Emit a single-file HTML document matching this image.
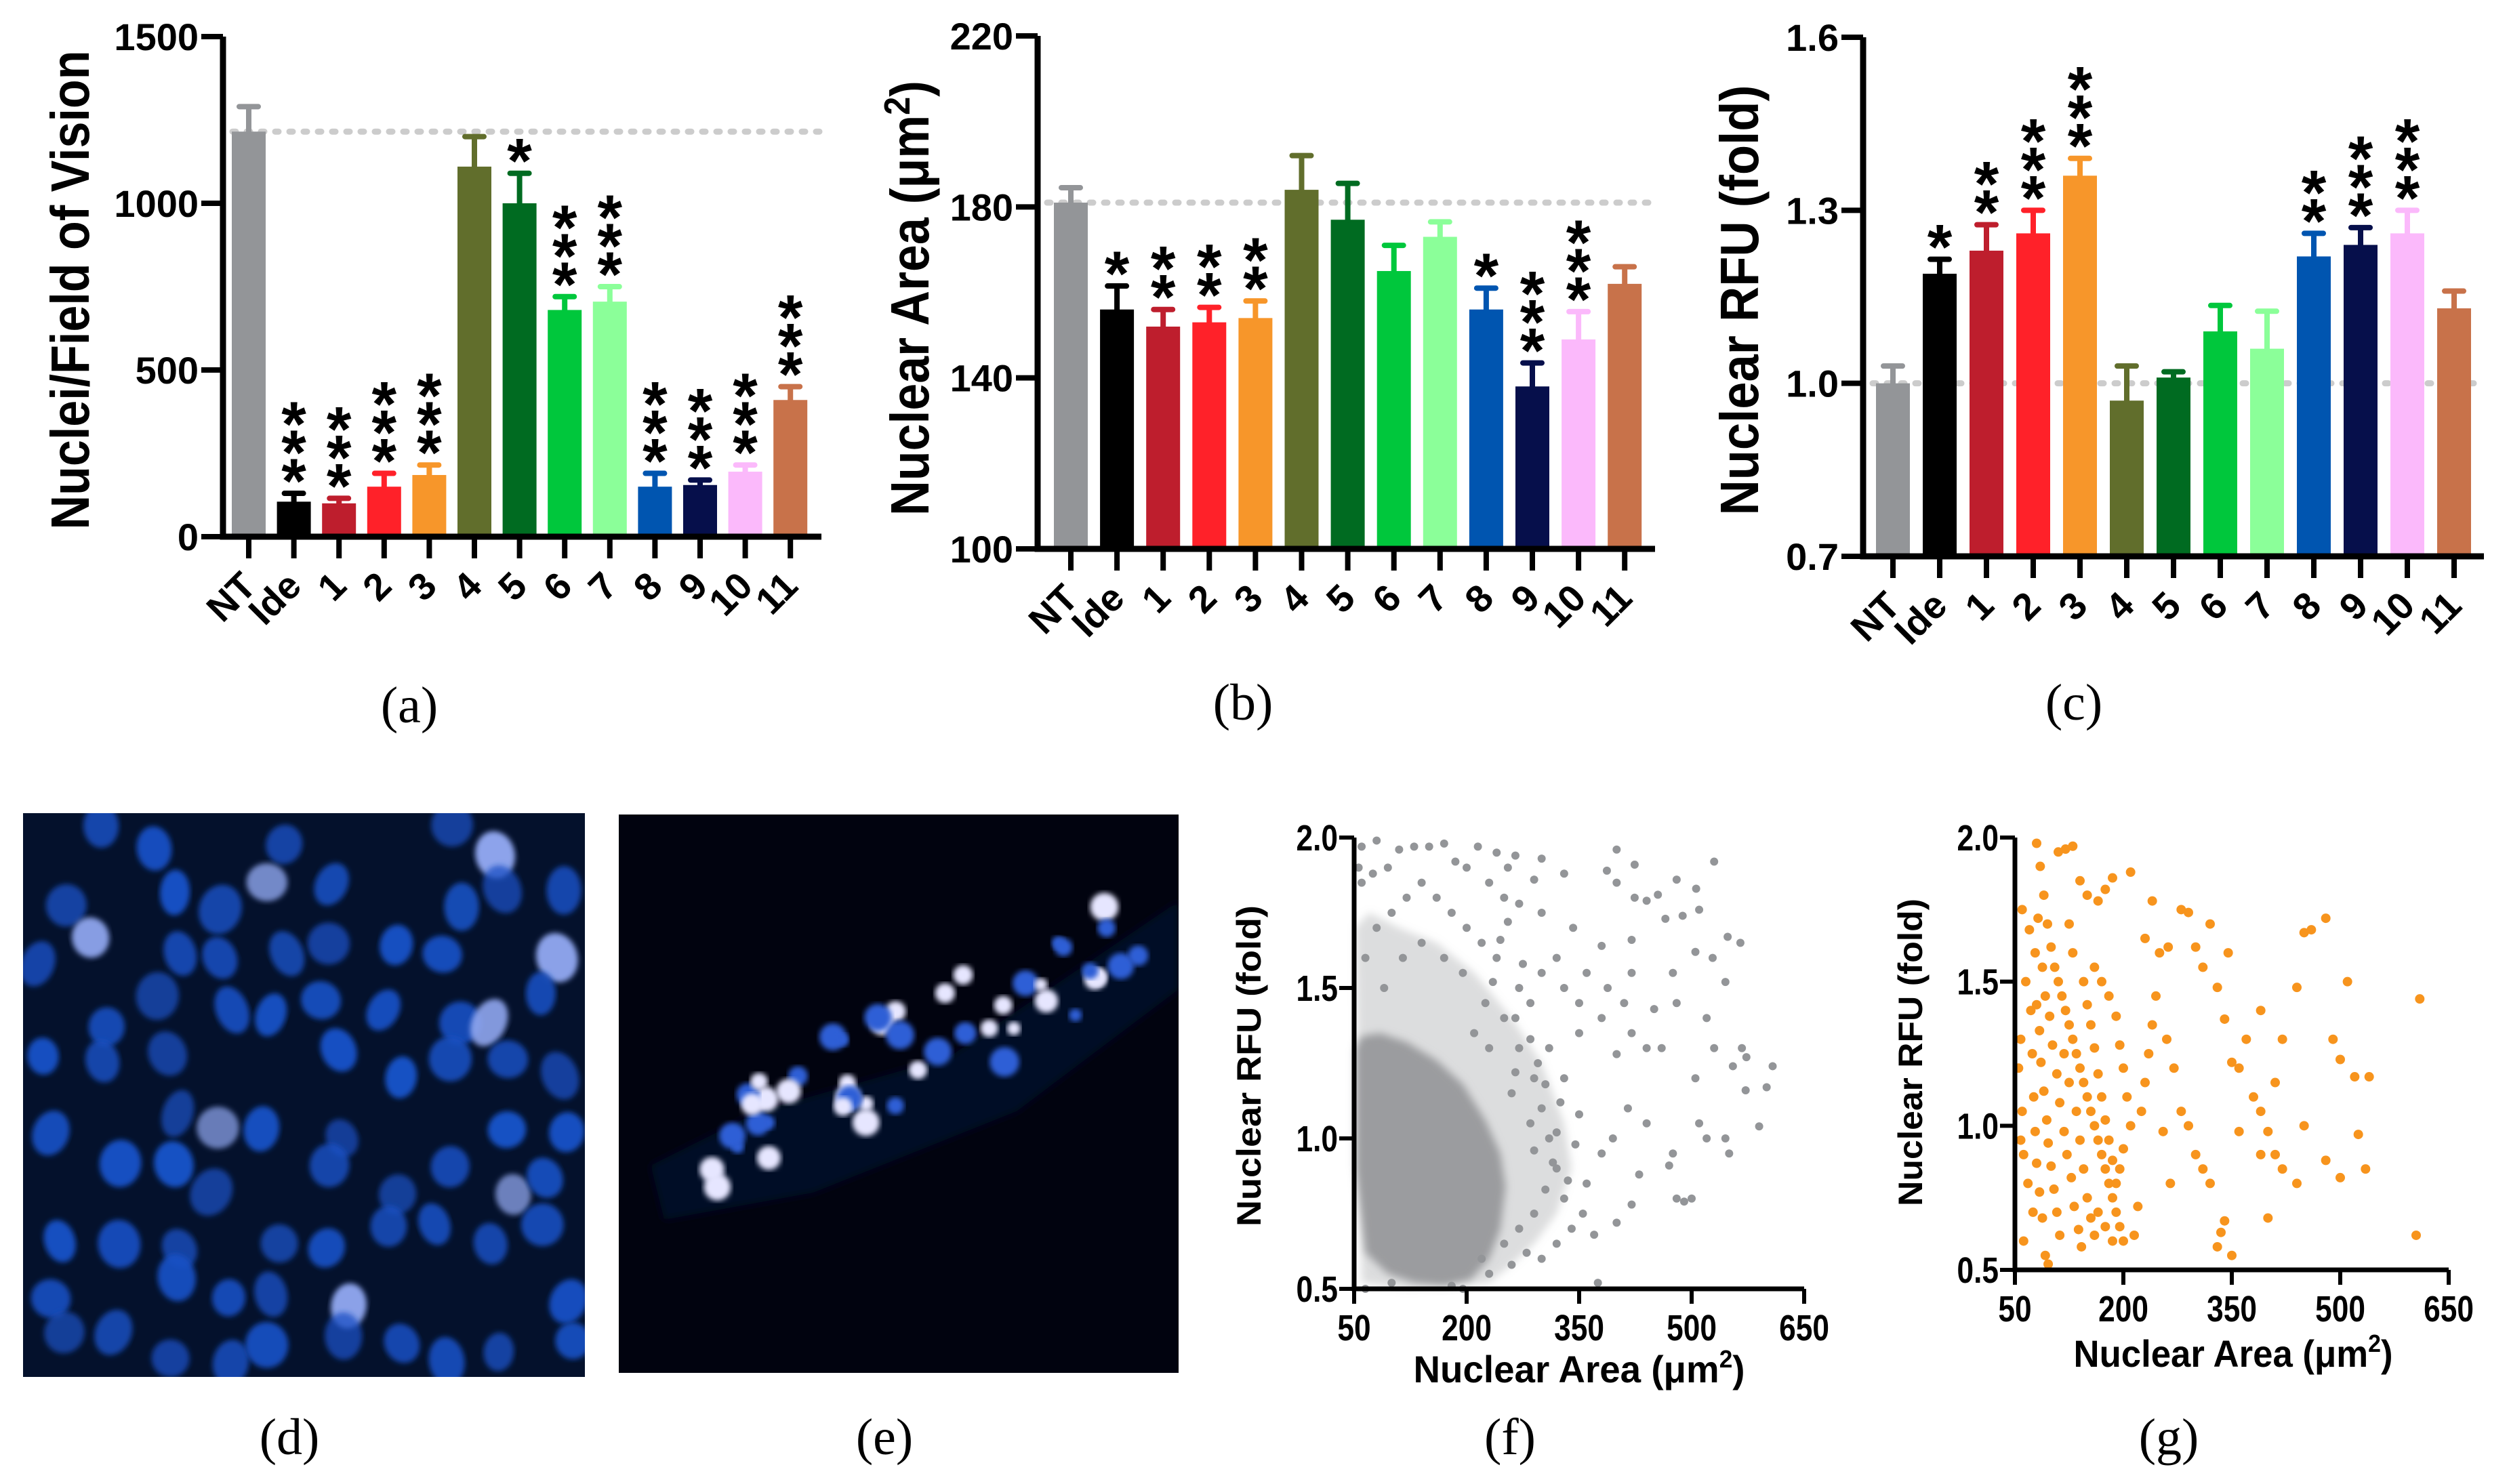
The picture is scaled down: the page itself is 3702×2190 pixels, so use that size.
<!DOCTYPE html>
<html><head><meta charset="utf-8">
<style>
html,body{margin:0;padding:0;background:#fff;}
svg{display:block;}
text{font-family:"Liberation Sans",Arial,sans-serif;}
.cap{font-family:"Liberation Serif",serif;font-size:76px;}
.narrow{font-family:"Liberation Sans Narrow","Liberation Sans",sans-serif;}
</style></head>
<body>
<svg id="fig" width="3702" height="2190" viewBox="0 0 3702 2190" xmlns="http://www.w3.org/2000/svg">
<defs>
<filter id="blur1"><feGaussianBlur stdDeviation="6"/></filter>
<filter id="blur2"><feGaussianBlur stdDeviation="4"/></filter>
<clipPath id="clipD"><rect x="34" y="1200" width="829" height="832"/></clipPath>
<clipPath id="clipE"><rect x="913" y="1202" width="826" height="824"/></clipPath>
</defs>
<g id="barA"></g>
<g id="barB"></g>
<g id="barC"></g>
<g id="imgD" clip-path="url(#clipD)"></g>
<g id="imgE" clip-path="url(#clipE)"></g>
<g id="scF"></g>
<g id="scG"></g>
<text class="cap" x="604" y="1066" text-anchor="middle">(a)</text>
<text class="cap" x="1834" y="1062" text-anchor="middle">(b)</text>
<text class="cap" x="3060" y="1062" text-anchor="middle">(c)</text>
<text class="cap" x="427" y="2146" text-anchor="middle">(d)</text>
<text class="cap" x="1305" y="2146" text-anchor="middle">(e)</text>
<text class="cap" x="2228" y="2146" text-anchor="middle">(f)</text>
<text class="cap" x="3200" y="2146" text-anchor="middle">(g)</text>
</svg>
<script>
const categories = ["NT","Ide","1","2","3","4","5","6","7","8","9","10","11"];
const barColors = ["#939598","#000000","#be1e2d","#ff2129","#f7962a","#616e2c","#006b21","#00c73c","#8bff99","#0055b0","#060f4b","#fbb9fb","#c8724a"];

const countValues = [1215,105,100,150,185,1110,1000,680,705,150,155,195,410];
const countErrors = [1290,130,115,190,215,1200,1090,720,750,190,170,215,450];
const countStars  = [0,3,3,3,3,0,1,3,3,3,3,3,3];
const countTicks  = [0,500,1000,1500];

const areaValues = [181,156,152,153,154,184,177,165,173,156,138,149,162];
const areaErrors = [184.5,161.5,156,156.5,158,192,185.5,171,176.5,161,143.5,155.5,166];
const areaStars  = [0,1,2,2,2,0,0,0,0,1,3,3,0];
const areaTicks  = [100,140,180,220];

const rfuValues = [1.00,1.19,1.23,1.26,1.36,0.97,1.01,1.09,1.06,1.22,1.24,1.26,1.13];
const rfuErrors = [1.03,1.215,1.275,1.30,1.39,1.03,1.02,1.135,1.125,1.26,1.27,1.30,1.16];
const rfuStars  = [0,1,2,3,3,0,0,0,0,2,3,3,0];
const rfuTicks  = [0.7,1.0,1.3,1.6];

const fArea = [60,80,110,130,150,170,215,240,265,300,400,424,480,530,506,255,290,330,387,400,440,455,424,465,510,488,548,565,420,380,342,300,270,250,320,360,388,450,420,475,505,528,545,520,480,410,380,350,440,460,400,420,530,567,573,555,608,572,600,590,505,510,520,545,550,475,480,500,490,470,430,440,415,395,380,360,330,355,340,320,300,280,260,230,375,370,420,400,330,300,310,285,270,330,350,300,240,220,200,180,160,140,120,100,80,60,65,90,115,140,170,195,225,250,210,270,290,310,320,290,270,250,220,65,100,180,195,56,75,95,200,230,185,265,285,305,325,345,275,295,315,335,255,245,235,265,285,305,230,260,290,320,350];
const fRfu  = [1.97,1.99,1.96,1.97,1.97,1.98,1.97,1.95,1.94,1.93,1.96,1.91,1.86,1.92,1.83,1.9,1.86,1.88,1.89,1.85,1.79,1.81,1.8,1.73,1.76,1.74,1.67,1.65,1.66,1.64,1.7,1.75,1.78,1.8,1.6,1.55,1.5,1.43,1.55,1.55,1.62,1.6,1.52,1.4,1.45,1.45,1.4,1.35,1.3,1.3,1.28,1.35,1.3,1.3,1.27,1.24,1.24,1.16,1.17,1.04,1.2,1.05,1.0,1.0,0.95,0.95,0.8,0.8,0.79,0.91,0.88,1.05,1.1,1.0,0.95,0.85,0.8,0.75,0.7,0.65,0.6,0.62,0.58,0.55,0.52,0.68,0.78,0.72,1.2,1.1,1.3,1.45,1.5,1.5,1.45,1.55,1.6,1.65,1.7,1.75,1.8,1.85,1.8,1.75,1.7,1.85,1.6,1.5,1.6,1.65,1.6,1.55,1.45,1.4,1.35,1.3,1.2,1.0,0.9,0.75,0.7,0.65,0.6,0.5,0.52,0.51,0.5,1.9,1.88,1.9,1.9,1.85,1.92,1.4,1.33,1.18,1.12,0.98,1.58,1.25,0.92,0.86,1.72,1.66,1.52,1.22,1.05,0.83,1.3,1.15,0.96,1.02,1.08];
const fCoreArea = [52,60,85,120,160,195,225,245,252,245,230,205,170,130,95,65,52];
const fCoreRfu  = [1.3,1.34,1.35,1.32,1.26,1.18,1.06,0.95,0.84,0.7,0.6,0.53,0.51,0.52,0.55,0.62,0.9];
const fHaloArea = [52,70,110,160,210,260,300,330,340,320,290,260,230,120,60];
const fHaloRfu  = [1.7,1.75,1.7,1.65,1.55,1.4,1.25,1.05,0.9,0.75,0.65,0.58,0.52,0.5,0.52];

const gArea = [60,70,65,58,55,60,58,62,68,75,62,80,85,90,95,100,105,110,115,120,125,130,135,140,145,150,155,160,165,170,175,180,185,190,195,200,120,110,130,140,150,165,175,185,88,92,98,102,108,112,118,122,128,132,138,142,80,84,86,90,94,96,100,104,108,112,78,82,72,74,76,78,80,84,88,92,96,145,150,155,160,165,170,175,180,185,190,160,170,180,190,195,200,205,210,200,195,130,125,135,140,145,150,155,160,125,118,165,175,185,215,220,225,230,235,240,245,250,262,280,290,300,310,320,330,345,260,270,280,290,300,310,320,340,335,350,330,340,350,360,380,390,400,410,420,390,410,420,440,450,460,480,490,500,510,520,540,525,535,500,480,450,440,400,610,605,390,370,360,255,265,210,230,240];
const gRfu  = [1.75,1.68,1.5,1.3,1.2,1.05,0.95,0.9,0.8,0.7,0.6,1.98,1.9,1.8,1.7,1.62,1.55,1.5,1.45,1.4,1.35,1.3,1.25,1.2,1.15,1.1,1.05,1.0,0.95,0.9,0.85,0.8,0.75,0.7,0.65,0.6,1.96,1.95,1.97,1.85,1.8,1.78,1.82,1.86,1.55,1.45,1.38,1.28,1.18,1.08,0.98,0.9,0.82,0.72,0.64,0.58,1.42,1.33,1.22,1.12,1.02,0.94,0.86,0.78,0.7,0.62,1.6,1.72,1.4,1.25,1.1,0.98,0.87,0.77,0.68,0.55,0.52,1.5,1.42,1.35,1.27,1.18,1.1,1.02,0.95,0.88,0.8,1.55,1.5,1.45,1.38,1.28,1.2,1.1,1.0,0.92,0.85,1.6,1.7,1.05,0.95,0.85,0.75,0.68,0.62,1.15,1.25,0.7,0.65,0.6,0.62,0.72,1.05,1.15,1.25,1.35,1.45,1.6,1.62,1.75,1.74,1.62,1.55,1.7,1.48,1.6,1.3,1.2,1.05,1.0,0.9,0.85,0.8,0.67,0.63,0.55,0.58,1.37,1.22,1.2,1.1,1.05,0.98,0.9,0.85,0.9,1.15,1.3,1.48,1.67,1.68,1.72,1.3,1.23,1.5,1.17,1.17,0.97,0.85,0.82,0.88,1.0,0.8,0.68,1.44,0.62,1.4,1.3,0.98,0.98,0.8,1.88,1.65,1.78];

const NS = "http://www.w3.org/2000/svg";
function mk(parent, tag, attrs, txt){
  const e = document.createElementNS(NS, tag);
  for (const k in attrs) e.setAttribute(k, attrs[k]);
  if (txt !== undefined) e.textContent = txt;
  parent.appendChild(e);
  return e;
}

function barChart(gid, cfg, values, errors, stars, ticks){
  const g = document.getElementById(gid);
  const y = v => cfg.y0 - (v - cfg.min) / (cfg.max - cfg.min) * (cfg.y0 - cfg.ytop);
  const x = i => cfg.first + i * cfg.step;
  const ref = mk(g, "line", {x1: cfg.axisX + 14, x2: cfg.xEnd, y1: y(values[0]), y2: y(values[0]), stroke: "#cccccc", "stroke-width": 9, "stroke-linecap": "round", "stroke-dasharray": "5 16"});
  
  
  values.forEach((v, i) => {
    const bar = mk(g, "rect", {x: x(i) - 25, y: y(v), width: 50, height: cfg.y0 - y(v), fill: barColors[i]});
    
    
    const eb = mk(g, "path", {d: `M${x(i)} ${y(v)} V${y(errors[i])} M${x(i)-14} ${y(errors[i])} H${x(i)+14}`, stroke: barColors[i], "stroke-width": 8, "stroke-linecap": "round", fill: "none"});
    
    
    for (let s = 0; s < stars[i]; s++) {
      const cy = y(errors[i]) - 40 - s * 42;
      const st = mk(g, "text", {x: x(i), y: cy + 54, "text-anchor": "middle", "font-size": 94, "font-weight": "bold"}, "*");
      
      
    }
    const xt = mk(g, "line", {x1: x(i), x2: x(i), y1: cfg.y0, y2: cfg.y0 + 32, stroke: "#000", "stroke-width": 8});
    
    
    const lbl = mk(g, "text", {x: 0, y: 0, "text-anchor": "end", "font-size": 56, "font-weight": "bold", transform: `translate(${x(i)+14},${cfg.y0+76}) rotate(-45)`}, categories[i]);
    
    
  });
  ticks.forEach(t => {
    const tl = mk(g, "line", {x1: cfg.axisX - 32, x2: cfg.axisX, y1: y(t), y2: y(t), stroke: "#000", "stroke-width": 8});
    
    
    const tt = mk(g, "text", {x: cfg.axisX - 36, y: y(t) + 20, "text-anchor": "end", "font-size": 56, "font-weight": "bold"}, cfg.fmt(t));
    
    
  });
  const ax = mk(g, "path", {d: `M${cfg.axisX} ${cfg.ytop} V${cfg.y0} H${cfg.xEnd}`, stroke: "#000", "stroke-width": 9, fill: "none"});
  
  
  const ttl = mk(g, "text", {x: 0, y: 0, "text-anchor": "middle", "font-size": 80, "font-weight": "bold", textLength: cfg.titleLen, lengthAdjust: "spacingAndGlyphs", transform: `translate(${cfg.titleX},${cfg.titleY}) rotate(-90)`}, "");
  
  
  ttl.innerHTML = cfg.title;
}

barChart("barA", {axisX:329, xEnd:1212, y0:792, ytop:54, min:0, max:1500, first:367, step:66.6, titleX:131, titleY:428, titleLen:707, title:"Nuclei/Field of Vision", fmt:t=>String(t)}, countValues, countErrors, countStars, countTicks);
barChart("barB", {axisX:1531, xEnd:2442, y0:810, ytop:53, min:100, max:220, first:1580, step:68.1, titleX:1370, titleY:440, titleLen:642, title:'Nuclear Area (μm<tspan dy="-28" font-size="54">2</tspan><tspan dy="28">)</tspan>', fmt:t=>String(t)}, areaValues, areaErrors, areaStars, areaTicks);
barChart("barC", {axisX:2749, xEnd:3665, y0:821, ytop:55, min:0.7, max:1.6, first:2793, step:69, titleX:2594, titleY:443, titleLen:635, title:"Nuclear RFU (fold)", fmt:t=>t.toFixed(1)}, rfuValues, rfuErrors, rfuStars, rfuTicks);

function scatter(gid, cfg, xs, ys, color, r, polys){
  const g = document.getElementById(gid);
  const X = v => cfg.x0 + (v - 50) / 600 * (cfg.x1 - cfg.x0);
  const Y = v => cfg.y0 - (v - 0.5) / 1.5 * (cfg.y0 - cfg.ytop);
  (polys || []).forEach(p => {
    const d = p.xs.map((v, i) => (i ? "L" : "M") + X(v).toFixed(1) + " " + Y(p.ys[i]).toFixed(1)).join(" ") + "Z";
    const pe = mk(g, "path", {d: d, fill: color, "fill-opacity": p.op, filter: "url(#blur1)"});
    
    
  });
  xs.forEach((v, i) => {
    const c = mk(g, "circle", {cx: X(v), cy: Y(ys[i]), r: r, fill: color});
    
    
  });
  [50,200,350,500,650].forEach(t => {
    const tl = mk(g, "line", {x1: X(t), x2: X(t), y1: cfg.y0, y2: cfg.y0 + 22, stroke: "#000", "stroke-width": 6});
    
    
    const tt = mk(g, "text", {x: 0, y: 0, "text-anchor": "middle", "font-size": 54, "font-weight": "bold", transform: `translate(${X(t)},${cfg.y0 + 76}) scale(0.82,1)`}, String(t));
    
    
  });
  [0.5,1.0,1.5,2.0].forEach(t => {
    const tl = mk(g, "line", {x1: cfg.x0 - 22, x2: cfg.x0, y1: Y(t), y2: Y(t), stroke: "#000", "stroke-width": 6});
    
    
    const tt = mk(g, "text", {x: 0, y: 0, "text-anchor": "end", "font-size": 54, "font-weight": "bold", transform: `translate(${cfg.x0 - 24},${Y(t) + 19}) scale(0.82,1)`}, t.toFixed(1));
    
    
  });
  const ax = mk(g, "path", {d: `M${cfg.x0} ${cfg.ytop} V${cfg.y0} H${cfg.x1}`, stroke: "#000", "stroke-width": 7, fill: "none"});
  
  
  const xl = mk(g, "text", {x: cfg.xlX, y: cfg.xlY, "text-anchor": "middle", "font-size": 56, "font-weight": "bold", textLength: cfg.xlLen, lengthAdjust: "spacingAndGlyphs"}, "");
  xl.innerHTML = 'Nuclear Area (μm<tspan dy="-22" font-size="36">2</tspan><tspan dy="22">)</tspan>';
  
  
  const yl = mk(g, "text", {x: 0, y: 0, "text-anchor": "middle", "font-size": 50, "font-weight": "bold", textLength: cfg.ylLen, lengthAdjust: "spacingAndGlyphs", transform: `translate(${cfg.ylX},${cfg.ylY}) rotate(-90)`}, "Nuclear RFU (fold)");
  
  
}

scatter("scF", {x0:1998, x1:2662, y0:1902, ytop:1236, xlX:2330, xlY:2040, xlLen:489, ylX:1860, ylY:1573, ylLen:474}, fArea, fRfu, "#939598", 6,
  [{xs: fHaloArea, ys: fHaloRfu, op: 0.32, name: "scatter-halo-density"}, {xs: fCoreArea, ys: fCoreRfu, op: 0.9, name: "scatter-core-density"}]);
scatter("scG", {x0:2973, x1:3613, y0:1874, ytop:1236, xlX:3295, xlY:2017, xlLen:471, ylX:2836, ylY:1553, ylLen:454}, gArea, gRfu, "#f7941d", 7, []);

// micrographs (decorative)
let seed = 11;
function rnd(){ seed = (seed * 16807) % 2147483647; return (seed - 1) / 2147483646; }
(function(){
  const g = document.getElementById("imgD");
  const bg = mk(g, "rect", {x:34, y:1200, width:829, height:832, fill:"#04112c"});
  
  
  for (let gy = 0; gy < 10; gy++) for (let gx = 0; gx < 10; gx++) {
    if (rnd() < 0.2) continue;
    const cx = 34 + (gx + 0.2 + rnd()*0.6) * 83, cy = 1200 + (gy + 0.2 + rnd()*0.6) * 83;
    const bright = rnd() < 0.07;
    const e = mk(g, "ellipse", {cx: cx, cy: cy, rx: 22 + rnd()*10, ry: 27 + rnd()*10, fill: bright ? "#8fa6ee" : "#1750c4", "fill-opacity": 0.7 + rnd()*0.3, filter: "url(#blur2)", transform: `rotate(${rnd()*60-30} ${cx} ${cy})`});
    
    
  }
})();
(function(){
  const g = document.getElementById("imgE");
  const bg = mk(g, "rect", {x:913, y:1202, width:826, height:824, fill:"#01030f"});
  
  
  const glow = mk(g, "path", {d:"M960 1720 L1120 1640 L1400 1560 L1739 1330 L1739 1460 L1500 1640 L1200 1760 L980 1800Z", fill:"#040b26", filter:"url(#blur1)"});
  
  
  for (let i = 0; i < 48; i++) {
    const t = rnd();
    const cx = 1000 + t*720, cy = 1740 - t*380 + (rnd()-0.5)*180;
    const rr = 9 + rnd()*13;
    const e = mk(g, "circle", {cx: cx, cy: cy, r: rr, fill: rnd() < 0.6 ? "#e6e6ff" : "#2f5fd6", filter: "url(#blur2)"});
    
    
  }
})();
</script>
</body></html>
